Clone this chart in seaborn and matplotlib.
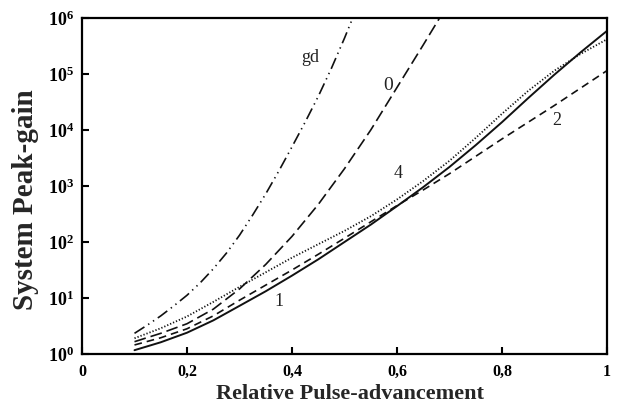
import numpy as np
import pandas as pd
import matplotlib
matplotlib.use("Agg")
import matplotlib.pyplot as plt
import seaborn as sns
from matplotlib.ticker import FixedLocator, FixedFormatter

# ---- data ----
x_common = [0.1, 0.15, 0.2, 0.25, 0.3, 0.35, 0.4, 0.45, 0.5, 0.55,
            0.6, 0.65, 0.7, 0.75, 0.8, 0.85, 0.9, 0.95, 1.0]
gain_1 = [1.17, 1.62, 2.40, 3.98, 7.24, 13.2, 25.1, 49.0, 100, 204,
          437, 955, 2190, 5370, 13800, 37200, 97700, 245000, 589000]
gain_2 = [1.45, 1.95, 2.82, 4.79, 9.12, 17.0, 31.6, 60.3, 117, 229,
          447, 851, 1660, 3390, 6920, 13800, 27500, 56200, 115000]
gain_4 = [1.91, 2.88, 4.68, 8.51, 15.8, 28.8, 52.5, 91.2, 158, 288,
          575, 1230, 2820, 7240, 19500, 50100, 115000, 229000, 417000]

x_0 = [0.1, 0.15, 0.2, 0.25, 0.3, 0.35, 0.4, 0.45, 0.5, 0.55, 0.6, 0.65, 0.685]
gain_0 = [1.66, 2.34, 3.47, 6.31, 14.5, 39.8, 126, 468, 2040, 10000, 57500, 331000, 1.15e6]

x_gd = [0.1, 0.125, 0.15, 0.175, 0.2, 0.225, 0.25, 0.275, 0.3, 0.325,
        0.35, 0.375, 0.4, 0.425, 0.45, 0.475, 0.5, 0.52]
gain_gd = [2.34, 3.31, 4.79, 7.24, 11.2, 18.6, 33.1, 63.1, 132, 302,
           724, 1860, 5010, 13800, 39800, 126000, 437000, 1.26e6]

x_ticks = [0, 0.2, 0.4, 0.6, 0.8, 1.0]
x_tick_labels = ["0", "0,2", "0,4", "0,6", "0,8", "1"]
y_exponents = [0, 1, 2, 3, 4, 5, 6]

curve_labels = ["gd", "0", "4", "2", "1"]
label_x = [0.434, 0.583, 0.603, 0.904, 0.375]
label_y = [2.0e5, 6.2e4, 1.7e3, 1.5e4, 8.5]
label_size = [13, 14, 13, 13, 13]

# ---- style ----
sns.set_theme(style="ticks")
plt.rcParams["font.family"] = ["Liberation Serif", "DejaVu Serif"]
plt.rcParams["mathtext.fontset"] = "custom"
plt.rcParams["mathtext.rm"] = "Liberation Serif"
plt.rcParams["mathtext.bf"] = "Liberation Serif:bold"
plt.rcParams["lines.scale_dashes"] = False

fig = plt.figure(figsize=(6.18, 4.09), dpi=100)
ax = fig.add_axes([82 / 618, 55 / 409, 525 / 618, 336 / 409])

ink = "#111111"
lw = 1.2

sns.lineplot(x=x_gd, y=gain_gd, ax=ax, color=ink, lw=lw, estimator=None, sort=False,
             linestyle=(0, (8.5, 3.2, 1.0, 3.2, 1.0, 3.2)))
sns.lineplot(x=x_0, y=gain_0, ax=ax, color=ink, lw=lw, estimator=None, sort=False,
             linestyle=(0, (8.5, 3.6)))
sns.lineplot(x=x_common, y=gain_4, ax=ax, color=ink, lw=1.3, estimator=None, sort=False,
             linestyle=(0, (0.9, 1.4)))
sns.lineplot(x=x_common, y=gain_2, ax=ax, color=ink, lw=lw, estimator=None, sort=False,
             linestyle=(0, (5.5, 3.6)))
sns.lineplot(x=x_common, y=gain_1, ax=ax, color=ink, lw=1.4, estimator=None, sort=False,
             linestyle="-")

ax.set_yscale("log")
ax.set_xlim(0, 1)
ax.set_ylim(1, 1e6)

ax.xaxis.set_major_locator(FixedLocator(x_ticks))
ax.xaxis.set_major_formatter(FixedFormatter(x_tick_labels))
ax.yaxis.set_major_locator(FixedLocator([10.0 ** e for e in y_exponents]))
ax.yaxis.set_major_formatter(FixedFormatter([r"$\mathbf{10^{%d}}$" % e for e in y_exponents]))
ax.yaxis.set_minor_locator(FixedLocator([]))

ax.tick_params(axis="both", which="major", direction="in", length=5, width=1.5,
               colors="black")
ax.tick_params(axis="x", pad=7, labelsize=11.5)
ax.tick_params(axis="y", pad=6, labelsize=13)
for lab in ax.get_xticklabels():
    lab.set_fontweight("bold")

for sp in ax.spines.values():
    sp.set_visible(True)
    sp.set_linewidth(1.6)
    sp.set_color("black")

ax.set_xlabel("Relative Pulse-advancement", fontsize=16, fontweight="bold")
ax.set_ylabel("System Peak-gain", fontsize=21, fontweight="bold")
ax.xaxis.label.set_va("center")
ax.yaxis.label.set_va("center")
ax.xaxis.set_label_coords(0.51, -0.119)
ax.yaxis.set_label_coords(-0.108, 0.458)

for t, lx, ly, fs in zip(curve_labels, label_x, label_y, label_size):
    ax.text(lx, ly, t, fontsize=fs, ha="center", va="center", color="#222222")

ax.grid(False)
fig.savefig("out.png", dpi=100, facecolor="white")
